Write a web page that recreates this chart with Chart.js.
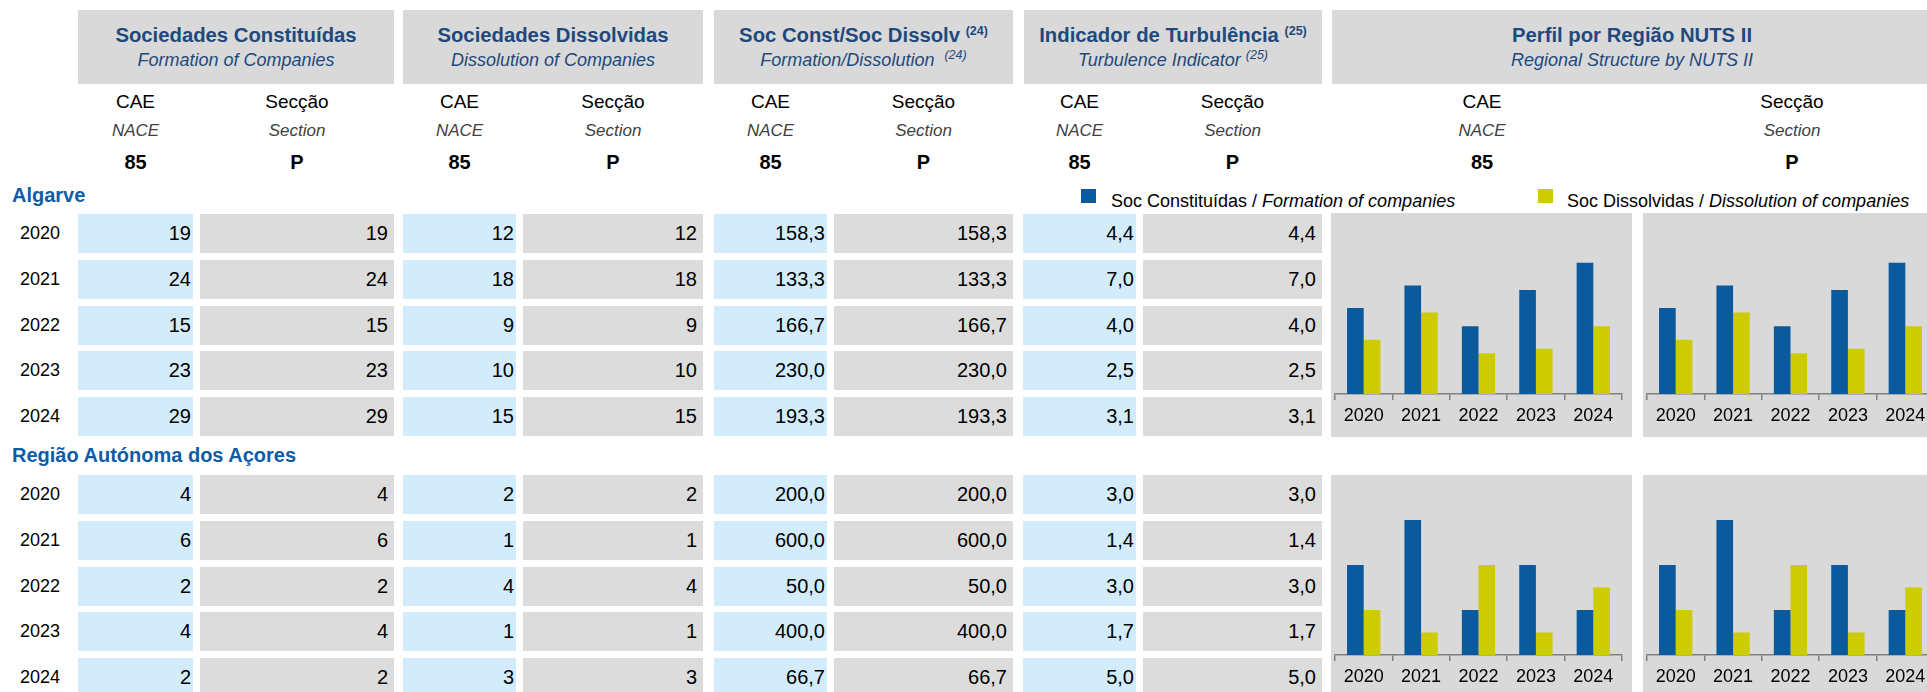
<!DOCTYPE html>
<html><head><meta charset="utf-8">
<script src="https://cdn.jsdelivr.net/npm/chart.js@4.4.0/dist/chart.umd.min.js"></script>
<style>
html,body{margin:0;padding:0;background:#fff;overflow:hidden;width:1927px;height:692px;font-family:"Liberation Sans",Arial,sans-serif;}
#page{position:relative;width:1927px;height:692px;overflow:hidden;}
.hbox{position:absolute;top:10px;height:74px;background:#D9D9D9;color:#1F497D;text-align:center;white-space:nowrap;}
.ht{position:absolute;left:0;right:0;top:13px;font-weight:bold;font-size:20.3px;line-height:24px;}
.hs{position:absolute;left:0;right:0;top:40px;font-style:italic;font-size:18px;line-height:20px;}
sup{font-size:12.5px;position:relative;top:-7px;vertical-align:baseline;line-height:0;}
.sub{position:absolute;transform:translateX(-50%);white-space:nowrap;line-height:22px;}
.l1{top:91px;font-size:19px;color:#000;}
.l2{top:120px;font-size:17px;font-style:italic;color:#404040;}
.l3{top:151px;font-size:20px;font-weight:bold;color:#000;}
.region{position:absolute;left:12px;font-weight:bold;font-size:20px;color:#0F5CA6;line-height:24px;white-space:nowrap;}
.yr{position:absolute;left:20px;font-size:18px;line-height:39px;height:39px;color:#000;}
.cell{position:absolute;height:39px;display:flex;align-items:center;justify-content:flex-end;font-size:20px;color:#000;box-sizing:border-box;}
.cb{background:#D3ECFB;padding-right:2px;}
.cg{background:#DCDCDC;padding-right:6px;}
.leg{position:absolute;top:190px;font-size:18px;line-height:22px;white-space:nowrap;color:#000;}
.sw{position:absolute;width:15px;height:14px;top:189px;}
canvas.ch{position:absolute;background:#D9D9D9;}
</style>
</head><body><div id="page"></div>
<script>
// ---- data ----
const years = ['2020','2021','2022','2023','2024'];
const regions = ['Algarve','Região Autónoma dos Açores'];
const algarveConst = [19,24,15,23,29];
const algarveDissolv = [12,18,9,10,15];
const algarveRatio = [158.3,133.3,166.7,230.0,193.3];
const algarveTurb = [4.4,7.0,4.0,2.5,3.1];
const acoresConst = [4,6,2,4,2];
const acoresDissolv = [2,1,4,1,3];
const acoresRatio = [200.0,600.0,50.0,400.0,66.7];
const acoresTurb = [3.0,1.4,3.0,1.7,5.0];
const seriesNames = ['Soc Constituídas','Soc Dissolvidas'];
const seriesNamesEn = ['Formation of companies','Dissolution of companies'];

// ---- layout ----
const page = document.getElementById('page');
function el(tag, cls, style, html){const e=document.createElement(tag); if(cls)e.className=cls; Object.assign(e.style,style||{}); if(html!==undefined)e.innerHTML=html; page.appendChild(e); return e;}

const heads = [
 {x:78,w:316,t:'Sociedades Constituídas',s:'Formation of Companies'},
 {x:403,w:300,t:'Sociedades Dissolvidas',s:'Dissolution of Companies'},
 {x:714,w:299,t:'Soc Const/Soc Dissolv <sup>(24)</sup>',s:'Formation/Dissolution &nbsp;<sup>(24)</sup>'},
 {x:1024,w:298,t:'Indicador de Turbulência <sup>(25)</sup>',s:'Turbulence Indicator <sup>(25)</sup>'},
 {x:1332,w:600,t:'Perfil por Região NUTS II',s:'Regional Structure by NUTS II'}
];
heads.forEach(h=>{
  const b=el('div','hbox',{left:h.x+'px',width:h.w+'px'});
  const t=document.createElement('div');t.className='ht';t.innerHTML=h.t;b.appendChild(t);
  const s=document.createElement('div');s.className='hs';s.innerHTML=h.s;b.appendChild(s);
});

// columns: [cae left, cae right, sec left, sec right]
const cols = [[78,193,200,394],[403,516,523,703],[714,827,834,1013],[1023,1136,1143,1322]];
const subCenters = [];
cols.forEach(c=>{subCenters.push((c[0]+c[1])/2,(c[2]+c[3])/2);});
subCenters.push(1482,1792);
subCenters.forEach((cx,i)=>{
  const cae = i%2===0;
  el('div','sub l1',{left:cx+'px'}, cae?'CAE':'Secção');
  el('div','sub l2',{left:cx+'px'}, cae?'NACE':'Section');
  el('div','sub l3',{left:cx+'px'}, cae?'85':'P');
});

// legend
const colors = ['#0B5A9E','#CCCC00'];
el('div','sw',{left:'1081px',background:colors[0]});
el('div','leg',{left:'1111px'}, seriesNames[0]+' / <i>'+seriesNamesEn[0]+'</i>');
el('div','sw',{left:'1538px',background:colors[1]});
el('div','leg',{left:'1567px'}, seriesNames[1]+' / <i>'+seriesNamesEn[1]+'</i>');

function fmt1(v){return v.toFixed(1).replace('.',',');}

const blocks = [
 {label:regions[0], labelY:183, rowTop:214, chartTop:213, chartH:224, cons:algarveConst, diss:algarveDissolv, ratio:algarveRatio, turb:algarveTurb, ymax:40},
 {label:regions[1], labelY:443, rowTop:475, chartTop:475, chartH:223, cons:acoresConst, diss:acoresDissolv, ratio:acoresRatio, turb:acoresTurb, ymax:8}
];
const pitch = 45.8;

blocks.forEach(b=>{
  el('div','region',{top:b.labelY+'px'}, b.label);
  years.forEach((y,i)=>{
    const top = Math.round(b.rowTop + i*pitch);
    el('div','yr',{top:top+'px'}, y);
    const vals = [String(b.cons[i]), String(b.diss[i]), fmt1(b.ratio[i]), fmt1(b.turb[i])];
    cols.forEach((c,k)=>{
      el('div','cell cb',{left:c[0]+'px',width:(c[1]-c[0])+'px',top:top+'px'}, vals[k]);
      el('div','cell cg',{left:c[2]+'px',width:(c[3]-c[2])+'px',top:top+'px'}, vals[k]);
    });
  });
  [1331,1643].forEach(x=>{
    const cv = document.createElement('canvas');
    cv.className='ch'; cv.width=301; cv.height=b.chartH;
    Object.assign(cv.style,{left:x+'px',top:b.chartTop+'px',width:'301px',height:b.chartH+'px'});
    page.appendChild(cv);
    makeChart(cv, b.cons, b.diss, b.ymax);
  });
});

function makeChart(canvas, cons, diss, ymax){
  new Chart(canvas,{
    type:'bar',
    data:{labels:years,datasets:[
      {label:seriesNames[0],data:cons,backgroundColor:colors[0],categoryPercentage:0.58,barPercentage:1},
      {label:seriesNames[1],data:diss,backgroundColor:colors[1],categoryPercentage:0.58,barPercentage:1}
    ]},
    options:{
      responsive:false,animation:false,maintainAspectRatio:false,
      layout:{padding:{left:4,right:10,top:0,bottom:0}},
      plugins:{legend:{display:false},tooltip:{enabled:false}},
      scales:{
        x:{
          grid:{display:true,drawOnChartArea:false,drawTicks:true,tickLength:6,color:'#808080',offset:true,lineWidth:1.5},
          border:{display:true,color:'#808080',width:1.5},
          ticks:{color:'#000',font:{family:'Liberation Sans',size:18},padding:5,maxRotation:0,autoSkip:false},
          afterFit:(s)=>{s.height=43;}
        },
        y:{display:false,min:0,max:ymax}
      }
    }
  });
}
</script>
</body></html>
